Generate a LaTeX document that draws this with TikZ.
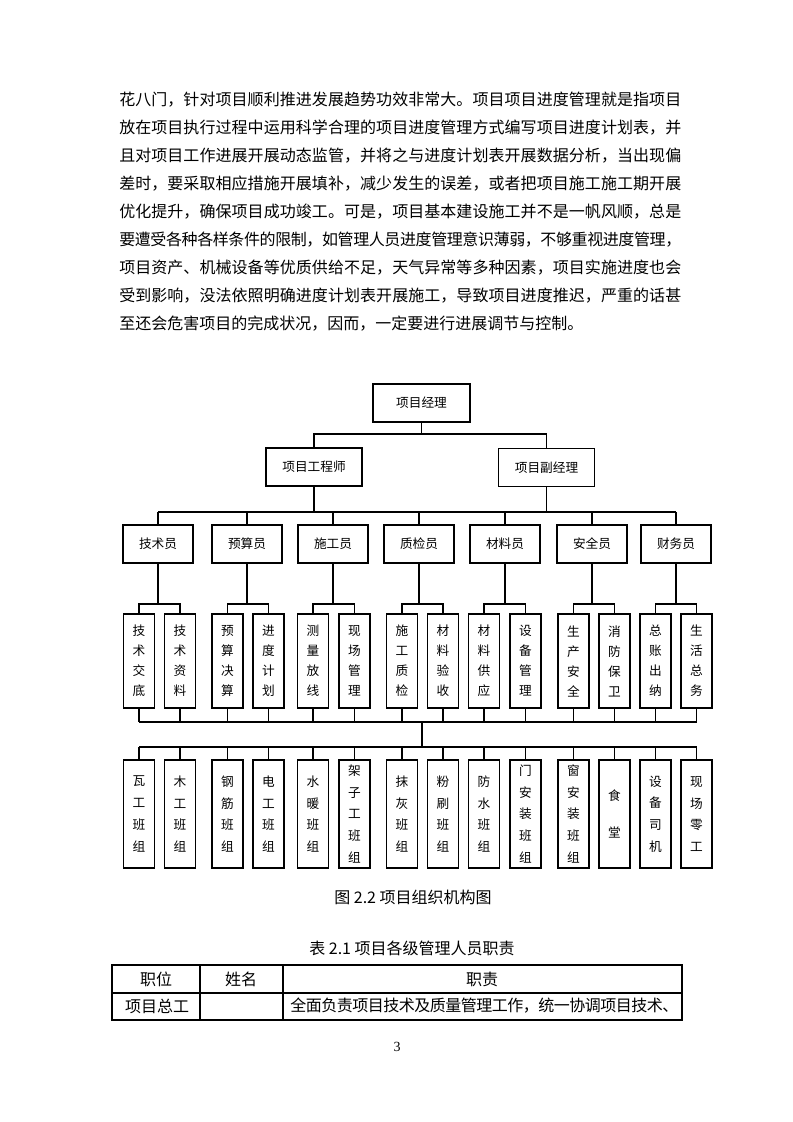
\documentclass[tikz,border=0pt]{standalone}
\usepackage{fontspec}
\setmainfont{Liberation Serif}
\newfontfamily\cjk{Noto Sans CJK SC}

% spread the characters of one line over a given width
\ExplSyntaxOn
\NewDocumentCommand\spreadline{mm}
 {
  \tl_set:Nx \l_tmpa_tl {#2}
  \hbox_to_wd:nn {#1}
   { \tl_map_inline:Nn \l_tmpa_tl { ##1 \hskip~0pt~plus~1fil~minus~1.5pt\relax } \unskip }
 }
\ExplSyntaxOff

\tikzset{
  mgr/.style={draw, line width=1.2pt, minimum width=72pt, minimum height=28.5pt,
    font=\cjk\fontsize{9.5}{11}\selectfont},
  post/.style={mgr, minimum width=52.5pt},
  duty/.style={draw, line width=1.2pt, minimum width=23.25pt, minimum height=70.5pt,
    inner sep=0pt, align=center, font=\cjk\fontsize{9.5}{15}\selectfont},
  crew/.style={duty, minimum height=81pt, font=\cjk\fontsize{9.5}{16.3}\selectfont},
  link/.style={line width=1.2pt},
  para/.style={anchor=west, inner sep=0pt, font=\cjk\fontsize{12}{14}\selectfont},
  cell/.style={inner sep=0pt, font=\cjk\fontsize{12}{14}\selectfont},
}

\begin{document}
\begin{tikzpicture}[x=0.75pt, y=-0.75pt]
\useasboundingbox (0,0) rectangle (793,1122);

% text above the chart
\foreach \lab [count=\i from 0] in {花八门，针对项目顺利推进发展趋势功效非常大。项目项目进度管理就是指项目,
  放在项目执行过程中运用科学合理的项目进度管理方式编写项目进度计划表，并,
  且对项目工作进展开展动态监管，并将之与进度计划表开展数据分析，当出现偏,
  差时，要采取相应措施开展填补，减少发生的误差，或者把项目施工施工期开展,
  优化提升，确保项目成功竣工。可是，项目基本建设施工并不是一帆风顺，总是,
  要遭受各种各样条件的限制，如管理人员进度管理意识薄弱，不够重视进度管理，,
  项目资产、机械设备等优质供给不足，天气异常等多种因素，项目实施进度也会,
  受到影响，没法依照明确进度计划表开展施工，导致项目进度推迟，严重的话甚}
  \node[para] (p\i) at (119,{100+28*\i}) {\spreadline{421.5pt}{\lab}};
\node[para] (p8) at (119,324) {至还会危害项目的完成状况，因而，一定要进行进展调节与控制。};

% top levels
\node[mgr, minimum width=72.75pt] (pm) at (421.5,403) {项目经理};
\node[mgr] (eng) at (314,467) {项目工程师};
\node[mgr] (vpm) at (546.5,467.5) {项目副经理};
\draw[link] (pm.south) -- ++(0,11) coordinate (j0);
\draw[link] (eng.north) |- (j0) -| (vpm.north);

% posts
\foreach \i/\x/\lab in {1/158/技术员, 2/247/预算员, 3/333/施工员, 4/419/质检员,
  5/505/材料员, 6/592/安全员, 7/676/财务员}
  \node[post] (r\i) at (\x,544) {\lab};
\coordinate (bus1) at (422,512);
\draw[link] (eng.south) -- (eng.south |- bus1);
\draw[link] (vpm.south) -- (vpm.south |- bus1);
\draw[link] (r1.north |- bus1) -- (r7.north |- bus1);
\foreach \i in {1,...,7}
  \draw[link] (r\i.north) -- (r\i.north |- bus1);

% duties
\foreach \i/\x/\lab in {1/139/技\\术\\交\\底, 2/180/技\\术\\资\\料, 3/227.5/预\\算\\决\\算,
  4/268.5/进\\度\\计\\划, 5/313/测\\量\\放\\线, 6/354.5/现\\场\\管\\理,
  7/402/施\\工\\质\\检, 8/443/材\\料\\验\\收, 9/484/材\\料\\供\\应,
  10/525.5/设\\备\\管\\理, 11/573.5/生\\产\\安\\全, 12/614.5/消\\防\\保\\卫,
  13/655.5/总\\账\\出\\纳, 14/696.5/生\\活\\总\\务}
  \node[duty] (t\i) at (\x,661) {\lab};
\foreach \p/\a/\b in {1/1/2, 2/3/4, 3/5/6, 4/7/8, 5/9/10, 6/11/12, 7/13/14}
 {\draw[link] (r\p.south) -- ++(0,40) coordinate (k\p);
  \draw[link] (t\a.north) |- (k\p) -| (t\b.north);}

% work crews
\foreach \i/\x/\lab in {1/139/瓦\\工\\班\\组, 2/180/木\\工\\班\\组, 3/227.5/钢\\筋\\班\\组,
  4/268.5/电\\工\\班\\组, 5/313/水\\暖\\班\\组, 6/354.5/架\\子\\工\\班\\组,
  7/402/抹\\灰\\班\\组, 8/443/粉\\刷\\班\\组, 9/484/防\\水\\班\\组,
  10/525.5/门\\安\\装\\班\\组, 11/573.5/窗\\安\\装\\班\\组, 12/614.5/食\\[11pt]堂,
  13/655.5/设\\备\\司\\机, 14/696.5/现\\场\\零\\工}
  \node[crew] (b\i) at (\x,814) {\lab};
\coordinate (bus2) at (422,722);
\coordinate (bus3) at (422,747);
\foreach \i in {1,...,14}
 {\draw[link] (t\i.south) -- (t\i.south |- bus2);
  \draw[link] (b\i.north) -- (b\i.north |- bus3);}
\draw[link] (t1.south |- bus2) -- (t14.south |- bus2);
\draw[link] (b1.north |- bus3) -- (b14.north |- bus3);
\draw[link] (bus2) -- (bus3);

% captions and table
\node[cell] (cap1) at (413,897) {{\cjk 图} 2.2 {\cjk 项目组织机构图}};
\node[cell] (cap2) at (412,948) {{\cjk 表} 2.1 {\cjk 项目各级管理人员职责}};
\draw[line width=0.8pt] (112,965) rectangle (682,1020);
\draw[line width=0.8pt] (112,993) -- (682,993);
\draw[line width=0.8pt] (200,965) -- (200,1020);
\draw[line width=0.8pt] (283,965) -- (283,1020);
\node[cell] (h1) at (156,979) {职位};
\node[cell] (h2) at (241,979) {姓名};
\node[cell] (h3) at (482,979) {职责};
\node[cell] (c1) at (157,1006) {项目总工};
\node[cell, anchor=west] (c3) at (290,1006) {\spreadline{291pt}{全面负责项目技术及质量管理工作，统一协调项目技术、}};
\node[inner sep=0pt, font=\fontsize{10.5}{12}\selectfont] (pg) at (397,1047) {3};
\end{tikzpicture}
\end{document}
